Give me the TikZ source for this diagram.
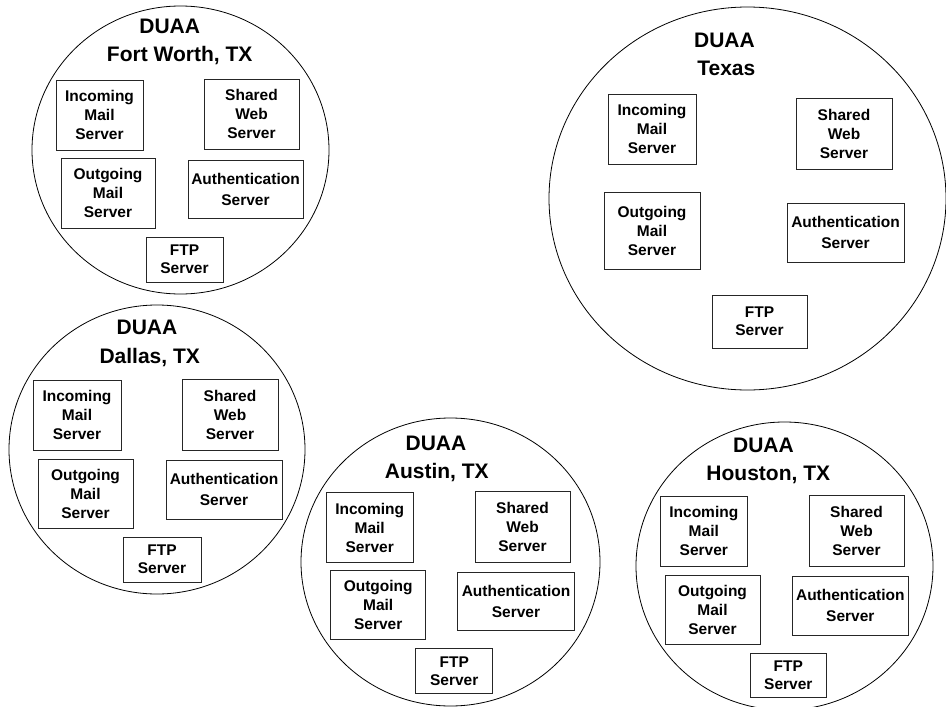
\documentclass[tikz,border=0pt]{standalone}
\usepackage{fontspec}
\setmainfont{Liberation Sans}
\usetikzlibrary{shapes.geometric}

\tikzset{
  zone/.style={draw=black, line width=0.8pt, ellipse, inner sep=0pt, outer sep=0pt},
  srv/.style={draw=black!85, line width=0.9pt, align=center, inner sep=0pt,
              font=\bfseries\fontsize{15.5}{19}\selectfont},
  srvtwo/.style={srv, font=\bfseries\fontsize{15.5}{21}\selectfont},
  ftpbox/.style={srv, font=\bfseries\fontsize{15.5}{18}\selectfont},
  ttl/.style={inner sep=0pt, text height=15pt, text depth=0pt,
              font=\bfseries\fontsize{21}{28}\selectfont}
}

\begin{document}
\begin{tikzpicture}[x=1pt,y=-1pt]
\useasboundingbox (0,0) rectangle (946,707);

% ---------------- Fort Worth ----------------
\node[zone, minimum width=297pt, minimum height=288pt] (fw) at (180.5,150) {};
\node[ttl] (fw-t1) at (169.7,26) {DUAA};
\node[ttl] (fw-t2) at (179.7,54) {Fort Worth, TX};
\node[srv, minimum width=87pt, minimum height=70pt] (fw-in) at (99.5,115) {Incoming\\Mail\\Server};
\node[srv, minimum width=95pt, minimum height=70pt] (fw-sh) at (251.5,114) {Shared\\Web\\Server};
\node[srv, minimum width=94pt, minimum height=70pt] (fw-out) at (108,193) {Outgoing\\Mail\\Server};
\node[srvtwo, minimum width=115pt, minimum height=58pt] (fw-au) at (245.5,189) {Authentication\\Server};
\node[ftpbox, minimum width=77pt, minimum height=45pt] (fw-ftp) at (184.5,259.5) {FTP\\Server};

% ---------------- Texas ----------------
\node[zone, minimum width=397pt, minimum height=383pt] (tx) at (747.5,198.5) {};
\node[ttl] (tx-t1) at (724.5,40) {DUAA};
\node[ttl] (tx-t2) at (726.3,68) {Texas};
\node[srv, minimum width=88pt, minimum height=70pt] (tx-in) at (652,129) {Incoming\\Mail\\Server};
\node[srv, minimum width=96pt, minimum height=71pt] (tx-sh) at (844,133.5) {Shared\\Web\\Server};
\node[srv, minimum width=96pt, minimum height=77pt] (tx-out) at (652,230.5) {Outgoing\\Mail\\Server};
\node[srvtwo, minimum width=117pt, minimum height=59pt] (tx-au) at (845.5,232.5) {Authentication\\Server};
\node[ftpbox, minimum width=95pt, minimum height=53pt] (tx-ftp) at (759.5,321.5) {FTP\\Server};

% ---------------- Dallas ----------------
\node[zone, minimum width=296pt, minimum height=289pt] (da) at (157,449.5) {};
\node[ttl] (da-t1) at (147,326.7) {DUAA};
\node[ttl] (da-t2) at (149.7,356.3) {Dallas, TX};
\node[srv, minimum width=88pt, minimum height=70pt] (da-in) at (77,415) {Incoming\\Mail\\Server};
\node[srv, minimum width=96pt, minimum height=71pt] (da-sh) at (230,414.5) {Shared\\Web\\Server};
\node[srv, minimum width=95pt, minimum height=69pt] (da-out) at (85.5,493.5) {Outgoing\\Mail\\Server};
\node[srvtwo, minimum width=116pt, minimum height=59pt] (da-au) at (224,489.5) {Authentication\\Server};
\node[ftpbox, minimum width=78pt, minimum height=45pt] (da-ftp) at (162,559.5) {FTP\\Server};

% ---------------- Austin ----------------
\node[zone, minimum width=299pt, minimum height=288pt] (au) at (450.5,562) {};
\node[ttl] (au-t1) at (436,443) {DUAA};
\node[ttl] (au-t2) at (436.8,471.2) {Austin, TX};
\node[srv, minimum width=87pt, minimum height=70pt] (au-in) at (369.7,527.7) {Incoming\\Mail\\Server};
\node[srv, minimum width=95pt, minimum height=71pt] (au-sh) at (522.5,527.2) {Shared\\Web\\Server};
\node[srv, minimum width=95pt, minimum height=69pt] (au-out) at (378.2,605.3) {Outgoing\\Mail\\Server};
\node[srvtwo, minimum width=116.6pt, minimum height=58.4pt] (au-au) at (516,601.5) {Authentication\\Server};
\node[ftpbox, minimum width=77pt, minimum height=45pt] (au-ftp) at (454.2,671.3) {FTP\\Server};

% ---------------- Houston ----------------
\node[zone, minimum width=297pt, minimum height=288pt] (ho) at (784.5,566) {};
\node[ttl] (ho-t1) at (763.5,445) {DUAA};
\node[ttl] (ho-t2) at (768.3,472.8) {Houston, TX};
\node[srv, minimum width=87.7pt, minimum height=69.3pt] (ho-in) at (703.8,531.3) {Incoming\\Mail\\Server};
\node[srv, minimum width=95pt, minimum height=70.3pt] (ho-sh) at (856.5,530.8) {Shared\\Web\\Server};
\node[srv, minimum width=95pt, minimum height=69pt] (ho-out) at (712.5,609.5) {Outgoing\\Mail\\Server};
\node[srvtwo, minimum width=116pt, minimum height=58.3pt] (ho-au) at (850.3,605.8) {Authentication\\Server};
\node[ftpbox, minimum width=76.7pt, minimum height=44.3pt] (ho-ftp) at (788.3,675.5) {FTP\\Server};
\end{tikzpicture}
\end{document}
